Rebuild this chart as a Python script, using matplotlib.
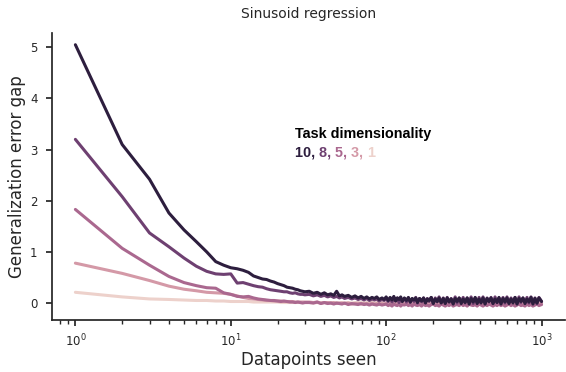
import numpy as np
import matplotlib
matplotlib.use("Agg")
import matplotlib.pyplot as plt
import seaborn as sns

# datapoints seen: every integer up to 30, then sparser steps further out
x_head = list(range(1, 31))
x_mid = [32, 34, 36, 38, 40, 42, 44, 46, 48, 50, 52, 54, 57, 60, 63, 66, 69, 72, 75, 78,
         81, 84, 87, 90, 94, 97]
x_far = [100, 103, 106, 109, 112, 115, 118, 121, 124, 127,
         131, 135, 139, 143, 147, 151, 155, 159, 164, 169,
         174, 179, 184, 189, 195, 201, 207, 213, 219, 226,
         233, 240, 247, 254, 262, 270, 278, 286, 295, 304,
         313, 322, 332, 342, 352, 363, 374, 385, 396, 408,
         420, 433, 446, 459, 473, 487, 502, 517, 532, 548,
         565, 582, 599, 617, 636, 655, 675, 695, 716, 737,
         759, 782, 806, 830, 855, 880, 907, 934, 962, 1000]

dims = [10, 8, 5, 3, 1]

gap10_head = [5.05, 3.1, 2.42, 1.76, 1.43, 1.2, 1.0, 0.81, 0.74, 0.69, 0.67, 0.64, 0.6, 0.53, 0.5,
              0.47, 0.46, 0.43, 0.41, 0.38, 0.36, 0.34, 0.31, 0.3, 0.29, 0.27, 0.26, 0.24, 0.23, 0.22]
gap10_mid = [0.23, 0.19, 0.21, 0.17, 0.2, 0.16, 0.18, 0.15, 0.23, 0.14, 0.16, 0.13, 0.15, 0.11, 0.14,
             0.1, 0.13, 0.09, 0.12, 0.08, 0.11, 0.09, 0.12, 0.07, 0.1, 0.07]
gap10_far = [0.12, 0.05, 0.11, 0.06, 0.13, 0.04, 0.1, 0.07, 0.12, 0.03,
             0.1, 0.05, 0.11, 0.02, 0.09, 0.06, 0.1, 0.01, 0.09, 0.04,
             0.1, 0.0, 0.08, 0.05, 0.11, -0.01, 0.08, 0.03, 0.1, 0.0,
             0.09, -0.01, 0.1, 0.02, 0.08, -0.02, 0.09, 0.03, 0.1, -0.01,
             0.08, 0.01, 0.1, -0.02, 0.09, 0.02, 0.11, -0.01, 0.08, 0.0,
             0.1, -0.02, 0.09, 0.03, 0.1, -0.01, 0.08, 0.01, 0.11, -0.02,
             0.09, 0.02, 0.1, -0.01, 0.08, 0.0, 0.11, -0.02, 0.09, 0.03,
             0.1, -0.01, 0.08, 0.02, 0.11, -0.02, 0.09, 0.0, 0.1, 0.03]

gap8_head = [3.2, 2.08, 1.37, 1.1, 0.88, 0.72, 0.62, 0.57, 0.56, 0.57, 0.39, 0.4, 0.37, 0.34, 0.32,
             0.31, 0.28, 0.26, 0.25, 0.24, 0.23, 0.22, 0.22, 0.2, 0.19, 0.2, 0.18, 0.17, 0.17, 0.16]
gap8_mid = [0.17, 0.14, 0.16, 0.13, 0.15, 0.12, 0.14, 0.11, 0.13, 0.1, 0.12, 0.09, 0.11, 0.08, 0.1,
            0.07, 0.09, 0.06, 0.09, 0.05, 0.08, 0.06, 0.08, 0.04, 0.07, 0.05]
gap8_far = [0.08, 0.03, 0.09, 0.02, 0.08, 0.04, 0.1, 0.01, 0.08, 0.03,
            0.09, 0.02, 0.1, 0.01, 0.08, 0.03, 0.11, 0.0, 0.09, 0.02,
            0.1, 0.01, 0.09, 0.03, 0.11, 0.0, 0.1, 0.02, 0.12, 0.01,
            0.1, 0.0, 0.11, 0.02, 0.09, 0.01, 0.12, 0.0, 0.1, 0.03,
            0.11, 0.0, 0.1, 0.02, 0.12, -0.01, 0.1, 0.01, 0.11, 0.02,
            0.12, 0.0, 0.1, 0.02, 0.11, -0.01, 0.12, 0.01, 0.1, 0.03,
            0.11, 0.0, 0.12, 0.01, 0.1, 0.02, 0.11, -0.01, 0.12, 0.01,
            0.1, 0.02, 0.11, 0.0, 0.12, 0.01, 0.1, -0.01, 0.11, 0.03]

gap5_head = [1.83, 1.07, 0.74, 0.52, 0.4, 0.34, 0.3, 0.29, 0.2, 0.17, 0.13, 0.12, 0.13, 0.1, 0.08,
             0.07, 0.06, 0.05, 0.05, 0.04, 0.03, 0.04, 0.03, 0.02, 0.02, 0.01, 0.02, 0.01, 0.0, 0.01]
gap5_mid = [0.01, 0.0, 0.02, -0.01, 0.01, -0.01, 0.0, -0.02, 0.0, -0.01, -0.02, 0.0, -0.03, -0.01, -0.02,
            -0.03, -0.01, -0.03, -0.02, -0.04, -0.02, -0.03, -0.04, -0.02, -0.04, -0.03]
gap5_far = [-0.02, -0.05, -0.03, -0.06, -0.02, -0.04, -0.05, -0.02, -0.06, -0.03,
            -0.04, -0.02, -0.05, -0.03, -0.06, -0.02, -0.04, -0.05, -0.03, -0.06,
            -0.02, -0.05, -0.04, -0.06, -0.03, -0.02, -0.05, -0.04, -0.06, -0.02,
            -0.04, -0.06, -0.03, -0.05, -0.02, -0.06, -0.04, -0.03, -0.05, -0.02,
            -0.05, -0.03, -0.06, -0.02, -0.04, -0.05, -0.03, -0.06, -0.02, -0.04,
            -0.06, -0.03, -0.05, -0.02, -0.04, -0.06, -0.03, -0.05, -0.02, -0.05,
            -0.03, -0.06, -0.04, -0.02, -0.05, -0.03, -0.06, -0.04, -0.02, -0.05,
            -0.04, -0.06, -0.02, -0.05, -0.03, -0.06, -0.04, -0.02, -0.05, -0.03]

gap3_head = [0.78, 0.58, 0.44, 0.33, 0.27, 0.24, 0.21, 0.2, 0.19, 0.17, 0.14, 0.11, 0.09, 0.08, 0.07,
             0.06, 0.05, 0.05, 0.04, 0.04, 0.04, 0.03, 0.03, 0.03, 0.03, 0.02, 0.02, 0.02, 0.02, 0.02]
gap3_mid = [0.02, 0.01, 0.02, 0.0, 0.01, 0.01, 0.0, 0.01, -0.01, 0.0, 0.0, -0.01, 0.0, -0.02, -0.01,
            0.0, -0.02, -0.01, -0.01, -0.02, 0.0, -0.02, -0.01, -0.02, -0.01, -0.02]
gap3_far = [-0.01, -0.02, 0.0, -0.03, -0.01, -0.02, 0.0, -0.03, -0.01, -0.02] * 8

gap1_head = [0.21, 0.12, 0.08, 0.07, 0.06, 0.05, 0.05, 0.04, 0.04, 0.03, 0.03, 0.03, 0.03, 0.02, 0.02,
             0.02, 0.02, 0.02, 0.02, 0.02, 0.01, 0.01, 0.01, 0.01, 0.01, 0.01, 0.01, 0.01, 0.01, 0.01]
gap1_mid = [0.01, 0.0] * 13
gap1_far = [0.0, -0.01] * 40

x = x_head + x_mid + x_far
gaps = {
    10: gap10_head + gap10_mid + gap10_far,
    8: gap8_head + gap8_mid + gap8_far,
    5: gap5_head + gap5_mid + gap5_far,
    3: gap3_head + gap3_mid + gap3_far,
    1: gap1_head + gap1_mid + gap1_far,
}
for d in dims:
    assert len(gaps[d]) == len(x), (d, len(gaps[d]), len(x))

sns.set_theme(style="ticks")
palette = sns.cubehelix_palette(len(dims))  # light -> dark
colors = {d: c for d, c in zip(sorted(dims), palette)}

fig, ax = plt.subplots(figsize=(5.66, 3.72), dpi=100)
fig.subplots_adjust(left=0.092, right=0.998, bottom=0.14, top=0.91)

# lightest first so the dark lines sit on top
for d in sorted(dims):
    ax.plot(x, gaps[d], color=colors[d], lw=2.2)

ax.set_xscale("log")
ax.set_ylim(-0.33, 5.27)
ax.set_yticks([0, 1, 2, 3, 4, 5])
ax.tick_params(labelsize=8.5, length=4.5)
ax.tick_params(axis="x", pad=5)
ax.tick_params(axis="y", pad=6)
ax.tick_params(which="minor", length=3)
ax.set_xlabel("Datapoints seen", fontsize=12, labelpad=1)
ax.set_ylabel("Generalization error gap", fontsize=12, labelpad=3)
ax.set_title("Sinusoid regression", fontsize=10, pad=11)
sns.despine(ax=ax)

# hand-made legend: coloured dimension numbers
ax.text(0.473, 0.635, "Task dimensionality", transform=ax.transAxes, fontsize=10.4,
        fontweight="bold", family="Liberation Sans", color="black")
renderer = fig.canvas.get_renderer()
xpos = 0.473
for i, d in enumerate(dims):
    label = str(d) + (", " if i < len(dims) - 1 else "")
    t = ax.text(xpos, 0.569, label, transform=ax.transAxes, fontsize=10.4,
                fontweight="bold", family="Liberation Sans", color=colors[d])
    bb = t.get_window_extent(renderer=renderer).transformed(ax.transAxes.inverted())
    xpos = bb.x1

plt.savefig("out.png", dpi=100)
